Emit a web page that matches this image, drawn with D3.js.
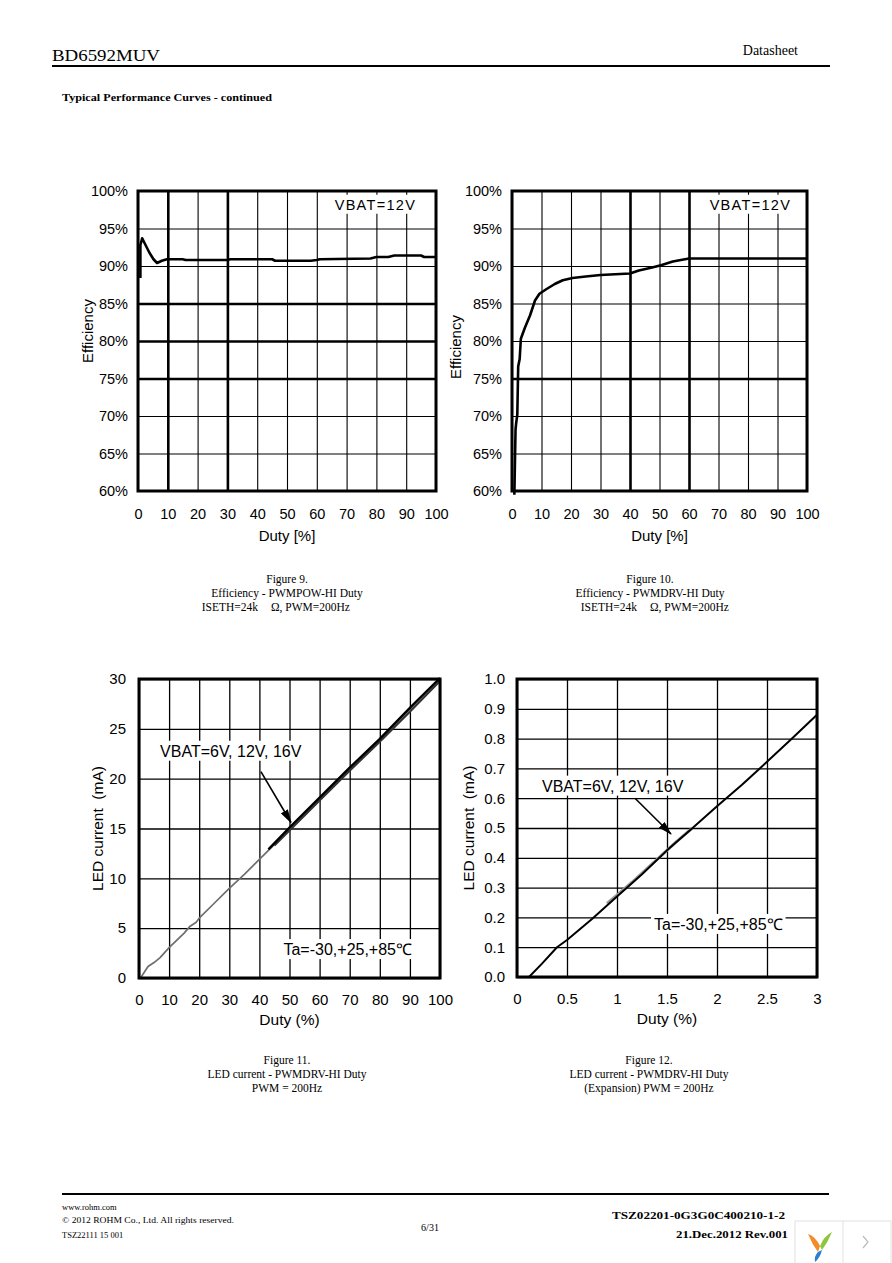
<!DOCTYPE html>
<html>
<head>
<meta charset="utf-8">
<script src="https://cdnjs.cloudflare.com/ajax/libs/d3/7.8.5/d3.min.js"></script>
<style>
body { margin: 0; background: #fff; }
</style>
</head>
<body>
<div id="page"></div>
<script>
// ---- data ----
var effTicksX = [0, 10, 20, 30, 40, 50, 60, 70, 80, 90, 100];
var effTicksY = [60, 65, 70, 75, 80, 85, 90, 95, 100];

// Figure 9: efficiency vs PWMPOW duty
var fig9Duty = [0.8, 0.8, 1.4, 2.4, 3.8, 5.2, 6.4, 8.0, 9.7, 15, 16, 30, 31, 45, 46, 58, 60, 61, 78, 80, 84, 86, 95, 96, 100];
var fig9Eff  = [88.4, 92.8, 93.7, 92.9, 91.8, 90.9, 90.4, 90.7, 90.9, 90.9, 90.8, 90.8, 90.9, 90.9, 90.7, 90.7, 90.8, 90.9, 91.0, 91.2, 91.2, 91.4, 91.4, 91.2, 91.2];

// Figure 10: efficiency vs PWMDRV duty
var fig10Duty = [0.8, 1.2, 1.4, 1.8, 2.1, 2.6, 3.0, 4.4, 6.1, 7.8, 9.3, 11.6, 14.5, 17.2, 20.5, 25, 30, 40, 43, 47.5, 50.5, 54.5, 60, 100];
var fig10Eff  = [59.5, 68.2, 69.0, 70.2, 76.6, 77.6, 80.3, 81.8, 83.4, 85.4, 86.3, 86.9, 87.6, 88.1, 88.4, 88.6, 88.8, 89.0, 89.4, 89.8, 90.1, 90.6, 91.0, 91.0];

// Figure 11: LED current vs PWMDRV duty, VBAT = 6V, 12V, 16V
var fig11TicksX = [0, 10, 20, 30, 40, 50, 60, 70, 80, 90, 100];
var fig11TicksY = [0, 5, 10, 15, 20, 25, 30];
var fig11DutyA = [0.5, 3, 5, 7, 10, 15, 17, 19, 20, 25, 30, 35, 40, 45, 50, 55, 60, 65, 70, 75, 80, 85, 90, 95, 100];
var fig11CurA  = [0, 1.15, 1.55, 2.05, 3.05, 4.5, 5.2, 5.6, 6.0, 7.5, 9.0, 10.4, 11.9, 13.4, 14.9, 16.4, 17.9, 19.4, 20.9, 22.4, 23.8, 25.3, 26.8, 28.3, 29.9];
var fig11DutyB = [43, 50, 60, 70, 80, 90, 100];
var fig11CurB  = [12.9, 15.1, 18.1, 21.1, 24.0, 27.1, 30.1];
var fig11DutyC = [45, 50, 60, 70, 80, 90, 100];
var fig11CurC  = [13.3, 14.8, 17.8, 20.8, 23.7, 26.7, 29.8];

// Figure 12: LED current vs PWMDRV duty (expansion)
var fig12TicksX = [0, 0.5, 1, 1.5, 2, 2.5, 3];
var fig12TicksY = [0, 0.1, 0.2, 0.3, 0.4, 0.5, 0.6, 0.7, 0.8, 0.9, 1.0];
var fig12Duty = [0.12, 0.25, 0.4, 0.5, 0.75, 1, 1.25, 1.5, 1.75, 2, 2.25, 2.5, 2.75, 3];
var fig12Cur  = [0, 0.045, 0.1, 0.124, 0.195, 0.27, 0.345, 0.425, 0.498, 0.573, 0.645, 0.722, 0.8, 0.88];
var fig12DutyG = [0.9, 1.0, 1.15, 1.6, 1.75];
var fig12CurG  = [0.247, 0.275, 0.318, 0.456, 0.499];

var svg = d3.select('#page').append('svg')
	.attr('width', 892)
	.attr('height', 1263)
	.style('display', 'block');

svg.append('defs').append('marker')
	.attr('id', 'arrowHead')
	.attr('markerUnits', 'userSpaceOnUse')
	.attr('markerWidth', 14)
	.attr('markerHeight', 8)
	.attr('refX', 13)
	.attr('refY', 4)
	.attr('orient', 'auto')
	.append('path')
	.attr('d', 'M0,0 L14,4 L0,8 Z')
	.attr('fill', '#000');

function txt(x, y, s, o) {
	o = o || {};
	var t = svg.append('text')
		.attr('x', x)
		.attr('y', y)
		.attr('font-family', o.family || '"Liberation Serif", serif')
		.attr('font-size', o.size || 12)
		.attr('font-weight', o.weight || 'normal')
		.attr('text-anchor', o.anchor || 'start')
		.attr('fill', '#000')
		.text(s);
	if (o.len) t.attr('textLength', o.len).attr('lengthAdjust', 'spacingAndGlyphs');
	return t;
}

function drawChart(c) {
	var x = d3.scaleLinear().domain(c.xDomain).range([0, c.w]);
	var y = d3.scaleLinear().domain(c.yDomain).range([c.h, 0]);
	var g = svg.append('g').attr('transform', 'translate(' + c.left + ',' + c.top + ')');
	var sans = '"Liberation Sans", Arial, sans-serif';

	// grid
	var gx = g.append('g').attr('transform', 'translate(0,' + c.h + ')')
		.call(d3.axisBottom(x).tickValues(c.xTicks).tickSize(-c.h).tickFormat(''));
	var gy = g.append('g')
		.call(d3.axisLeft(y).tickValues(c.yTicks).tickSize(-c.w).tickFormat(''));
	gx.select('.domain').remove();
	gy.select('.domain').remove();
	gx.selectAll('line').attr('stroke', '#000')
		.attr('stroke-width', function(d) { return c.heavyX.indexOf(d) >= 0 ? 2.6 : c.grid; });
	gy.selectAll('line').attr('stroke', '#000')
		.attr('stroke-width', function(d) { return c.heavyY.indexOf(d) >= 0 ? 2.6 : c.grid; });

	// tick labels
	var lx = g.append('g').attr('transform', 'translate(0,' + c.h + ')')
		.call(d3.axisBottom(x).tickValues(c.xTicks).tickSize(0).tickPadding(c.xPad).tickFormat(c.xFmt));
	var ly = g.append('g')
		.call(d3.axisLeft(y).tickValues(c.yTicks).tickSize(0).tickPadding(c.yPad).tickFormat(c.yFmt));
	lx.select('.domain').remove();
	ly.select('.domain').remove();
	g.selectAll('.tick text')
		.attr('font-family', sans)
		.attr('font-size', c.tickSize)
		.attr('fill', '#000');

	// notes sit on white patches that break the grid
	c.notes.forEach(function(n) {
		var bg = g.append('rect').attr('fill', '#fff');
		var t = g.append('text')
			.attr('x', x(n.x))
			.attr('y', y(n.y))
			.attr('font-family', sans)
			.attr('font-size', n.size)
			.attr('letter-spacing', n.spacing || 0)
			.attr('fill', '#000')
			.text(n.text);
		var b = t.node().getBBox();
		bg.attr('x', b.x - 3).attr('y', b.y - 2).attr('width', b.width + 6).attr('height', b.height + 3);
	});

	// curves
	var line = d3.line().x(function(d) { return x(d[0]); }).y(function(d) { return y(d[1]); });
	c.series.forEach(function(s) {
		g.append('path')
			.datum(d3.zip(s.x, s.y))
			.attr('d', line)
			.attr('fill', 'none')
			.attr('stroke', s.color)
			.attr('stroke-width', s.width)
			.attr('stroke-linejoin', 'round');
	});

	// frame
	g.append('rect')
		.attr('width', c.w)
		.attr('height', c.h)
		.attr('fill', 'none')
		.attr('stroke', '#000')
		.attr('stroke-width', 3);

	if (c.arrow) {
		g.append('line')
			.attr('x1', x(c.arrow[0])).attr('y1', y(c.arrow[1]))
			.attr('x2', x(c.arrow[2])).attr('y2', y(c.arrow[3]))
			.attr('stroke', '#000')
			.attr('stroke-width', 1.6)
			.attr('marker-end', 'url(#arrowHead)');
	}

	// axis titles
	g.append('text')
		.attr('x', c.w / 2)
		.attr('y', c.h + c.xTitleDy)
		.attr('text-anchor', 'middle')
		.attr('font-family', sans)
		.attr('font-size', c.titleSize)
		.text(c.xTitle);
	g.append('text')
		.attr('transform', 'translate(' + c.yTitleDx + ',' + (c.h / 2 + c.yTitleDy) + ') rotate(-90)')
		.attr('text-anchor', 'middle')
		.attr('font-family', sans)
		.attr('font-size', c.titleSize)
		.style('white-space', 'pre')
		.text(c.yTitle);
}

var pct = function(d) { return d + '%'; };

drawChart({
	left: 138, top: 191, w: 298, h: 300,
	xDomain: [0, 100], yDomain: [60, 100],
	xTicks: effTicksX, yTicks: effTicksY,
	xFmt: d3.format('d'), yFmt: pct,
	heavyX: [10, 30], heavyY: [75, 80, 85], grid: 1.1,
	xPad: 18, yPad: 10, tickSize: 14.5, titleSize: 15,
	series: [{ x: fig9Duty, y: fig9Eff, color: '#000', width: 2.6 }],
	notes: [{ x: 66, y: 97.5, text: 'VBAT=12V', size: 14.5, spacing: 1.3 }],
	xTitle: 'Duty [%]', xTitleDy: 50,
	yTitle: 'Efficiency', yTitleDx: -45, yTitleDy: -10
});

drawChart({
	left: 512, top: 191, w: 295, h: 300,
	xDomain: [0, 100], yDomain: [60, 100],
	xTicks: effTicksX, yTicks: effTicksY,
	xFmt: d3.format('d'), yFmt: pct,
	heavyX: [40, 60], heavyY: [75], grid: 1.1,
	xPad: 18, yPad: 10, tickSize: 14.5, titleSize: 15,
	series: [{ x: fig10Duty, y: fig10Eff, color: '#000', width: 2.6 }],
	notes: [{ x: 67, y: 97.5, text: 'VBAT=12V', size: 14.5, spacing: 1.3 }],
	xTitle: 'Duty [%]', xTitleDy: 50,
	yTitle: 'Efficiency', yTitleDx: -51, yTitleDy: 6
});

drawChart({
	left: 139, top: 679, w: 301, h: 299,
	xDomain: [0, 100], yDomain: [0, 30],
	xTicks: fig11TicksX, yTicks: fig11TicksY,
	xFmt: d3.format('d'), yFmt: d3.format('d'),
	heavyX: [], heavyY: [], grid: 1.3,
	xPad: 16, yPad: 13, tickSize: 15, titleSize: 15.5,
	series: [
		{ x: fig11DutyA, y: fig11CurA, color: '#6e6e6e', width: 1.7 },
		{ x: fig11DutyC, y: fig11CurC, color: '#333', width: 2 },
		{ x: fig11DutyB, y: fig11CurB, color: '#000', width: 2.4 }
	],
	notes: [
		{ x: 7, y: 22.2, text: 'VBAT=6V, 12V, 16V', size: 16 },
		{ x: 48, y: 2.3, text: 'Ta=-30,+25,+85\u2103', size: 16 }
	],
	arrow: [40.5, 20.7, 50.5, 15.6],
	xTitle: 'Duty (%)', xTitleDy: 47,
	yTitle: 'LED current  (mA)', yTitleDx: -36, yTitleDy: 0
});

drawChart({
	left: 517, top: 679, w: 300, h: 298,
	xDomain: [0, 3], yDomain: [0, 1],
	xTicks: fig12TicksX, yTicks: fig12TicksY,
	xFmt: d3.format('~g'), yFmt: d3.format('.1f'),
	heavyX: [], heavyY: [], grid: 1.3,
	xPad: 16, yPad: 12, tickSize: 15, titleSize: 15.5,
	series: [
		{ x: fig12DutyG, y: fig12CurG, color: '#999', width: 3 },
		{ x: fig12Duty, y: fig12Cur, color: '#000', width: 2 }
	],
	notes: [
		{ x: 0.25, y: 0.622, text: 'VBAT=6V, 12V, 16V', size: 16 },
		{ x: 1.37, y: 0.158, text: 'Ta=-30,+25,+85\u2103', size: 16 }
	],
	arrow: [1.18, 0.6, 1.54, 0.48],
	xTitle: 'Duty (%)', xTitleDy: 47,
	yTitle: 'LED current  (mA)', yTitleDx: -43, yTitleDy: 0
});

// ---- page furniture ----
txt(52, 61, 'BD6592MUV', { size: 16, len: 108 });
txt(798, 55, 'Datasheet', { size: 14, anchor: 'end' });
svg.append('line').attr('x1', 52).attr('x2', 830).attr('y1', 66).attr('y2', 66)
	.attr('stroke', '#000').attr('stroke-width', 2.2);
txt(62, 101, 'Typical Performance Curves - continued', { size: 11, weight: 'bold', len: 210 });

function caption(cx, y0, lines) {
	lines.forEach(function(l, i) {
		if (typeof l === 'string') {
			txt(cx, y0 + i * 14, l, { size: 11.5, anchor: 'middle' });
		} else {
			txt(cx + l[0], y0 + i * 14, l[1], { size: 11.5, anchor: 'end' });
			txt(cx + l[2], y0 + i * 14, l[3], { size: 11.5 });
		}
	});
}
caption(287, 583, ['Figure 9.', 'Efficiency - PWMPOW-HI Duty', [-29, 'ISETH=24k', -16, '\u03a9, PWM=200Hz']]);
caption(650, 583, ['Figure 10.', 'Efficiency - PWMDRV-HI Duty', [-13, 'ISETH=24k', 0, '\u03a9, PWM=200Hz']]);
caption(287, 1064, ['Figure 11.', 'LED current - PWMDRV-HI Duty', 'PWM = 200Hz']);
caption(649, 1064, ['Figure 12.', 'LED current - PWMDRV-HI Duty', '(Expansion) PWM = 200Hz']);

svg.append('line').attr('x1', 62).attr('x2', 829).attr('y1', 1194).attr('y2', 1194)
	.attr('stroke', '#000').attr('stroke-width', 2);
txt(62, 1210, 'www.rohm.com', { size: 8.5 });
txt(62, 1223, '\u00a9 2012 ROHM Co., Ltd. All rights reserved.', { size: 8.5, len: 172 });
txt(62, 1238, 'TSZ22111 15 001', { size: 8.5 });
txt(430, 1231, '6/31', { size: 10, anchor: 'middle' });
txt(785, 1219, 'TSZ02201-0G3G0C400210-1-2', { size: 11, weight: 'bold', anchor: 'end', len: 173 });
txt(788, 1238, '21.Dec.2012 Rev.001', { size: 11, weight: 'bold', anchor: 'end', len: 112 });

// viewer badge in the corner
svg.append('rect').attr('x', 795).attr('y', 1221).attr('width', 96).attr('height', 44)
	.attr('fill', '#fff').attr('stroke', '#e2e2e2');
svg.append('line').attr('x1', 843).attr('x2', 843).attr('y1', 1221).attr('y2', 1263).attr('stroke', '#e2e2e2');
svg.append('path').attr('d', 'M863,1236 L868,1242 L863,1248').attr('fill', 'none').attr('stroke', '#bbb').attr('stroke-width', 1.2);
svg.append('path').attr('d', 'M808,1234 Q815,1236 820,1246 L818,1252 Q812,1244 808,1234 Z').attr('fill', '#f28c28');
svg.append('path').attr('d', 'M820,1246 Q824,1236 832,1232 Q828,1242 822,1250 Z').attr('fill', '#8cc63f');
svg.append('path').attr('d', 'M818,1252 L822,1250 Q820,1258 815,1262 Q814,1256 818,1252 Z').attr('fill', '#2a7fd0');
</script>
</body>
</html>
